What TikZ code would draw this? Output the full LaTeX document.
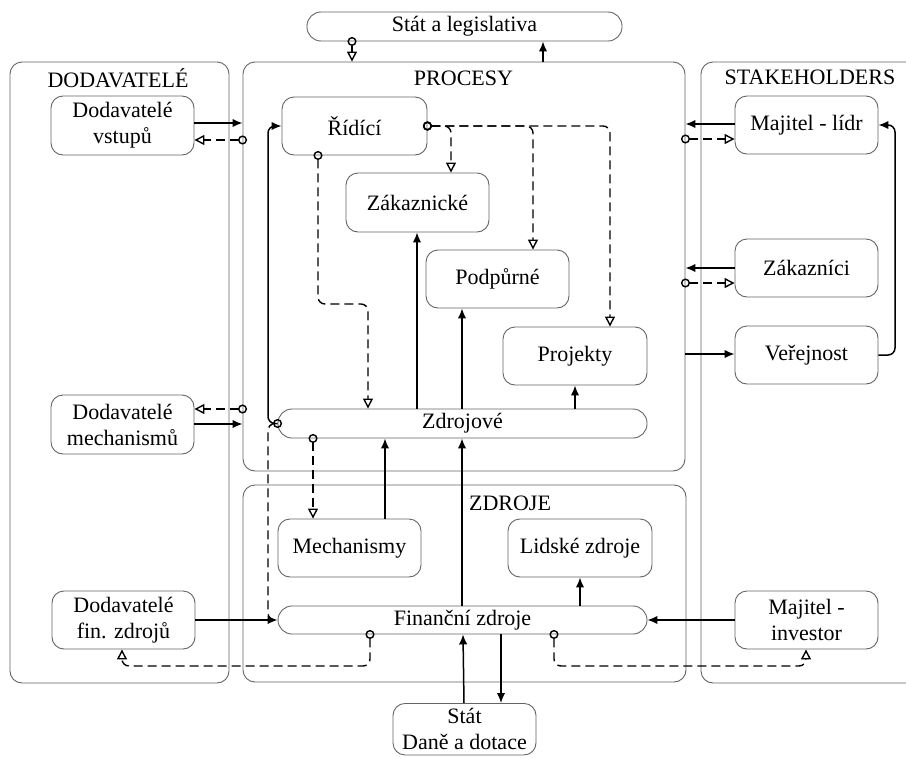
\documentclass[tikz,border=0pt]{standalone}
\usepackage{fontspec}
\setmainfont{Liberation Serif}
\usetikzlibrary{arrows.meta}
\definecolor{boxgray}{RGB}{100,100,100}
\begin{document}
\begin{tikzpicture}[x=1pt,y=-1pt,
  every node/.style={font=\fontsize{22}{26}\selectfont},
  box/.style={draw=boxgray, line width=0.9pt, rounded corners=12pt, align=center, inner sep=0pt},
  panel/.style={draw=boxgray, line width=0.9pt, rounded corners=12pt, inner sep=0pt},
  lbl/.style={inner sep=0pt},
  sol/.style={draw, line width=1.5pt, -{Latex[length=10pt,width=8.5pt]}, rounded corners=7pt},
  dbase/.style={draw, line width=1.4pt, dash pattern=on 9pt off 5pt, rounded corners=7pt, shorten <=-4.5pt},
  dsh/.style={dbase, {Circle[open,length=9pt,width=9pt]}-{Triangle[open,length=10pt,width=10pt]}},
  dshc/.style={dbase, {Circle[open,length=9pt,width=9pt]}-},
]
\useasboundingbox (0,0) rectangle (906,758);

% panels
\node[panel, minimum width=219pt, minimum height=621pt] (dod) at (119.5,372.5) {};
\node[panel, minimum width=442pt, minimum height=409pt] (proc) at (464,266.5) {};
\node[panel, minimum width=443pt, minimum height=197pt] (zdr) at (464.5,583.5) {};
\node[panel, minimum width=229pt, minimum height=621pt] (stk) at (815.5,372.5) {};

\node[lbl] (tdod) at (118,78) {DODAVATELÉ};
\node[lbl] (tproc) at (463.5,78) {PROCESY};
\node[lbl] (tzdr) at (510,503) {ZDROJE};
\node[lbl] (tstk) at (810,77) {STAKEHOLDERS};

% top
\node[box, rounded corners=14pt, minimum width=315pt, minimum height=29pt] (leg) at (464.5,26.5) {Stát a legislativa};

% left
\node[box, minimum width=143pt, minimum height=59pt] (dv) at (122.5,125.5) {Dodavatelé\\vstupů};
\node[box, minimum width=143pt, minimum height=59pt] (dm) at (122.5,424.5) {Dodavatelé\\mechanismů};
\node[box, minimum width=143pt, minimum height=58pt] (df) at (123.5,620) {Dodavatelé\\fin. zdrojů};

% processes
\node[box, minimum width=145pt, minimum height=58pt] (rid) at (354.5,126) {Řídící};
\node[box, minimum width=143pt, minimum height=59pt] (zak) at (417.5,202.5) {Zákaznické};
\node[box, minimum width=143pt, minimum height=58pt] (pod) at (497.5,279) {Podpůrné};
\node[box, minimum width=144pt, minimum height=58pt] (proj) at (575,356) {Projekty};
\node[box, rounded corners=14pt, minimum width=369pt, minimum height=29pt] (zdj) at (462.5,423.5) {Zdrojové};

% resources
\node[box, minimum width=143pt, minimum height=58pt] (mech) at (349.5,548) {Mechanismy};
\node[box, minimum width=144pt, minimum height=58pt] (lid) at (580,548) {Lidské zdroje};
\node[box, rounded corners=14pt, minimum width=369pt, minimum height=28pt] (fin) at (462.5,620) {Finanční zdroje};

% bottom
\node[box, anchor=north, minimum width=143pt, inner ysep=5pt] (stat) at (464.5,703) {Stát\\Daně a dotace};

% stakeholders
\node[box, minimum width=143pt, minimum height=58pt] (ml) at (806.5,125) {Majitel - lídr};
\node[box, minimum width=143pt, minimum height=58pt] (zc) at (806.5,268) {Zákazníci};
\node[box, minimum width=143pt, minimum height=58pt] (ver) at (806.5,355) {Veřejnost};
\node[box, minimum width=143pt, minimum height=58pt] (mi) at (806.5,620) {Majitel -\\investor};

% ---- solid connectors
\draw[sol] (proc.north -| 543,0) -- (leg.south -| 543,0);
\draw[sol] (dv.east |- 0,123) -- (proc.west |- 0,123);
\draw[sol] (dm.east |- 0,424) -- (proc.west |- 0,424);
\draw[sol] (df.east) -- (fin.west);
\draw[sol] (ml.west |- 0,124) -- (proc.east |- 0,124);
\draw[sol] (zc.west |- 0,268) -- (proc.east |- 0,268);
\draw[sol] (proc.east |- 0,354) -- (ver.west |- 0,354);
\draw[sol] (ver.east) -- (895,355) -- (895,125) -- (ml.east);
\draw[sol] (zdj.west) -- (268,423.5) -- (268,126) -- (rid.west);
\draw[sol] (zdj.north -| 417,0) -- (zak.south -| 417,0);
\draw[sol] (zdj.north -| 462,0) -- (pod.south -| 462,0);
\draw[sol] (zdj.north -| 575,0) -- (proj.south -| 575,0);
\draw[sol] (mech.north -| 385,0) -- (zdj.south -| 385,0);
\draw[sol] (fin.north -| 462,0) -- (zdj.south -| 462,0);
\draw[sol] (fin.north -| 580,0) -- (lid.south -| 580,0);
\draw[sol] (mi.west) -- (fin.east);
\draw[sol] (stat.north -| 464,0) -- (fin.south -| 463,0);
\draw[sol] (fin.south -| 501,0) -- (stat.north -| 501,0);

% ---- dashed connectors
\draw[dsh] (leg.south -| 352,0) -- (proc.north -| 352,0);
\draw[dsh] (proc.west |- 0,140) -- (dv.east |- 0,140);
\draw[dsh] (proc.west |- 0,409) -- (dm.east |- 0,409);
\draw[dsh] (proc.east |- 0,139) -- (ml.west |- 0,139);
\draw[dsh] (proc.east |- 0,283) -- (zc.west |- 0,283);
\draw[dsh] (rid.south -| 318,0) -- (318,304) -- (368,304) -- (zdj.north -| 368,0);
\draw[dsh] (rid.east) -- (610,126) -- (proj.north -| 610,0);
\draw[dsh] (rid.east) -- (451,126) -- (zak.north -| 451,0);
\draw[dsh] (rid.east) -- (533,126) -- (pod.north -| 533,0);
\draw[dsh] (zdj.south -| 313,0) -- (mech.north -| 313,0);
\draw[dshc] (zdj.west) -- (268,423.5) -- (268,620) -- (fin.west);
\draw[dsh] (fin.south -| 370,0) -- (370,666) -- (122,666) -- (df.south -| 122,0);
\draw[dsh] (fin.south -| 554,0) -- (554,666) -- (806,666) -- (mi.south -| 806,0);
\end{tikzpicture}
\end{document}
